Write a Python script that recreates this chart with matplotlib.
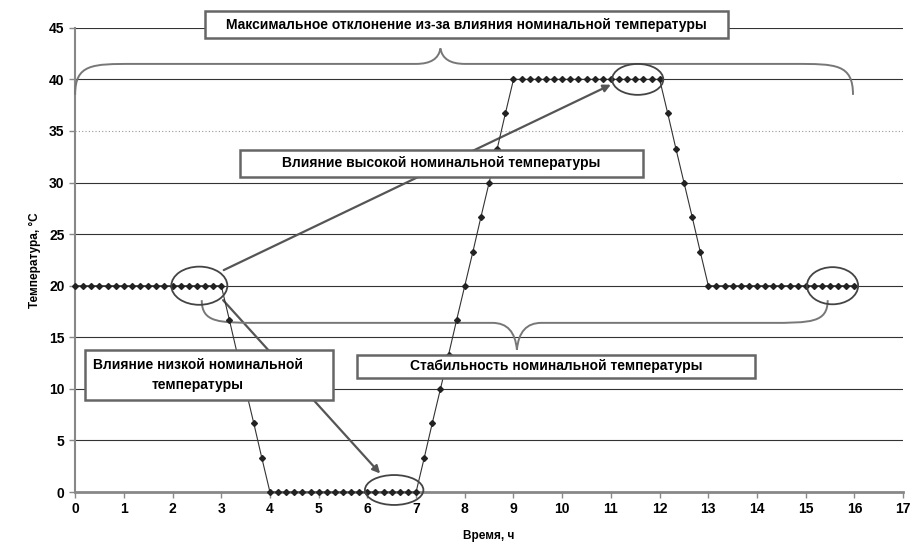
import matplotlib
matplotlib.use("Agg")
import matplotlib.pyplot as plt
from matplotlib.patches import Ellipse, PathPatch, Rectangle
from matplotlib.path import Path

plt.rcParams["font.family"] = ["Liberation Sans", "DejaVu Sans"]

# ── Data: temperature profile, one sample every 10 min ──────────────────────
time_min = [
    0, 10, 20, 30, 40, 50, 60, 70, 80, 90, 100, 110, 120, 130, 140, 150, 160, 170, 180,
    190, 200, 210, 220, 230, 240,
    250, 260, 270, 280, 290, 300, 310, 320, 330, 340, 350, 360, 370, 380, 390, 400, 410, 420,
    430, 440, 450, 460, 470, 480, 490, 500, 510, 520, 530, 540,
    550, 560, 570, 580, 590, 600, 610, 620, 630, 640, 650, 660, 670, 680, 690, 700, 710, 720,
    730, 740, 750, 760, 770, 780,
    790, 800, 810, 820, 830, 840, 850, 860, 870, 880, 890, 900, 910, 920, 930, 940, 950, 960,
]
temp_c = [
    20, 20, 20, 20, 20, 20, 20, 20, 20, 20, 20, 20, 20, 20, 20, 20, 20, 20, 20,
    16.7, 13.3, 10, 6.7, 3.3, 0,
    0, 0, 0, 0, 0, 0, 0, 0, 0, 0, 0, 0, 0, 0, 0, 0, 0, 0,
    3.3, 6.7, 10, 13.3, 16.7, 20, 23.3, 26.7, 30, 33.3, 36.7, 40,
    40, 40, 40, 40, 40, 40, 40, 40, 40, 40, 40, 40, 40, 40, 40, 40, 40, 40,
    36.7, 33.3, 30, 26.7, 23.3, 20,
    20, 20, 20, 20, 20, 20, 20, 20, 20, 20, 20, 20, 20, 20, 20, 20, 20, 20,
]
time_h = [m / 60 for m in time_min]

x_ticks = list(range(0, 18))
y_ticks = list(range(0, 50, 5))

label_top = "Максимальное отклонение из-за влияния номинальной температуры"
label_high = "Влияние высокой номинальной температуры"
label_low = "Влияние низкой номинальной\nтемпературы"
label_stab = "Стабильность номинальной температуры"

# highlighted regions (centre time, centre temperature)
ellipse_centres = [(2.55, 20), (6.55, 0.2), (11.55, 40), (15.55, 20)]


def brace(ax, x0, x1, y_end, y_mid, x_tip, y_tip, lw=1.4, color="#777"):
    """Curly brace from x0 to x1 with its tip at (x_tip, y_tip)."""
    k = 0.35
    verts = [
        (x0, y_end),
        (x0, y_mid), (x0 + k, y_mid), (x0 + 1.2, y_mid),
        (x_tip - 0.5, y_mid), (x_tip - 0.05, y_mid), (x_tip, y_tip),
        (x_tip + 0.05, y_mid), (x_tip + 0.5, y_mid), (x_tip + 0.5, y_mid),
        (x1 - 1.2, y_mid),
        (x1 - k, y_mid), (x1, y_mid), (x1, y_end),
    ]
    codes = [Path.MOVETO,
             Path.CURVE4, Path.CURVE4, Path.CURVE4,
             Path.LINETO, Path.CURVE3, Path.CURVE3,
             Path.CURVE3, Path.CURVE3, Path.LINETO,
             Path.LINETO,
             Path.CURVE4, Path.CURVE4, Path.CURVE4]
    ax.add_patch(PathPatch(Path(verts, codes), fill=False, lw=lw,
                           edgecolor=color, zorder=3, clip_on=False))


def label_box(ax, x0, x1, y0, y1, text, tx=None):
    ax.add_patch(Rectangle((x0, y0), x1 - x0, y1 - y0, facecolor="white",
                           edgecolor="#666", lw=1.8, zorder=6, clip_on=False))
    if tx is None:
        tx = (x0 + x1) / 2
    ax.text(tx, (y0 + y1) / 2, text, ha="center", va="center",
            fontsize=10, fontweight="bold", zorder=7, linespacing=1.5,
            multialignment="center", clip_on=False)


fig = plt.figure(figsize=(9.16, 5.56), dpi=100)
ax = fig.add_axes([0.082, 0.115, 0.904, 0.835])

ax.set_xlim(0, 17)
ax.set_ylim(0, 45)

# horizontal grid
for y in y_ticks[1:]:
    ax.axhline(y, color="#333" if y != 35 else "#999", lw=0.8,
               ls="-" if y != 35 else (0, (1, 2)), zorder=1)

for s in ["top", "right"]:
    ax.spines[s].set_visible(False)
ax.spines["left"].set_color("#888")
ax.spines["left"].set_linewidth(1.5)
ax.spines["bottom"].set_color("#888")
ax.spines["bottom"].set_linewidth(2.0)

ax.set_xticks(x_ticks)
ax.set_yticks(y_ticks)
ax.tick_params(axis="both", colors="#888", length=4, width=1, labelsize=10)
for lab in ax.get_xticklabels() + ax.get_yticklabels():
    lab.set_color("black")
    lab.set_fontweight("bold")

ax.set_xlabel("Время, ч", fontsize=8.5, fontweight="bold", labelpad=10)
ax.set_ylabel("Температура, °С", fontsize=8.5, fontweight="bold", labelpad=6)

# temperature profile
ax.plot(time_h, temp_c, color="#333", lw=0.8, marker="D", markersize=3,
        markerfacecolor="#222", markeredgecolor="#222", zorder=4, clip_on=False)

# ellipses
for (cx, cy), (w, h) in zip(ellipse_centres,
                            [(1.15, 3.7), (1.2, 2.9), (1.05, 3.0), (1.05, 3.6)]):
    ax.add_patch(Ellipse((cx, cy), w, h, fill=False, edgecolor="#444",
                         lw=1.3, zorder=5, clip_on=False))

# braces
brace(ax, 0.0, 15.97, 38.5, 41.5, 7.5, 43.0)
brace(ax, 2.6, 15.45, 18.6, 16.4, 9.07, 13.8)

# arrows
arrow_kw = dict(arrowstyle="-|>", color="#555", lw=1.6, mutation_scale=11)
ax.annotate("", xy=(11.05, 39.6), xytext=(3.0, 21.4),
            arrowprops=arrow_kw, zorder=2)
ax.annotate("", xy=(6.3, 1.6), xytext=(3.0, 18.8),
            arrowprops=arrow_kw, zorder=2)

# label boxes
label_box(ax, 2.67, 13.41, 44.0, 46.6, label_top)
label_box(ax, 3.39, 11.66, 30.5, 33.2, label_high)
label_box(ax, 0.21, 5.30, 8.9, 13.8, label_low, tx=2.52)
label_box(ax, 5.79, 13.96, 11.1, 13.3, label_stab)

fig.savefig("out.png", dpi=100)
